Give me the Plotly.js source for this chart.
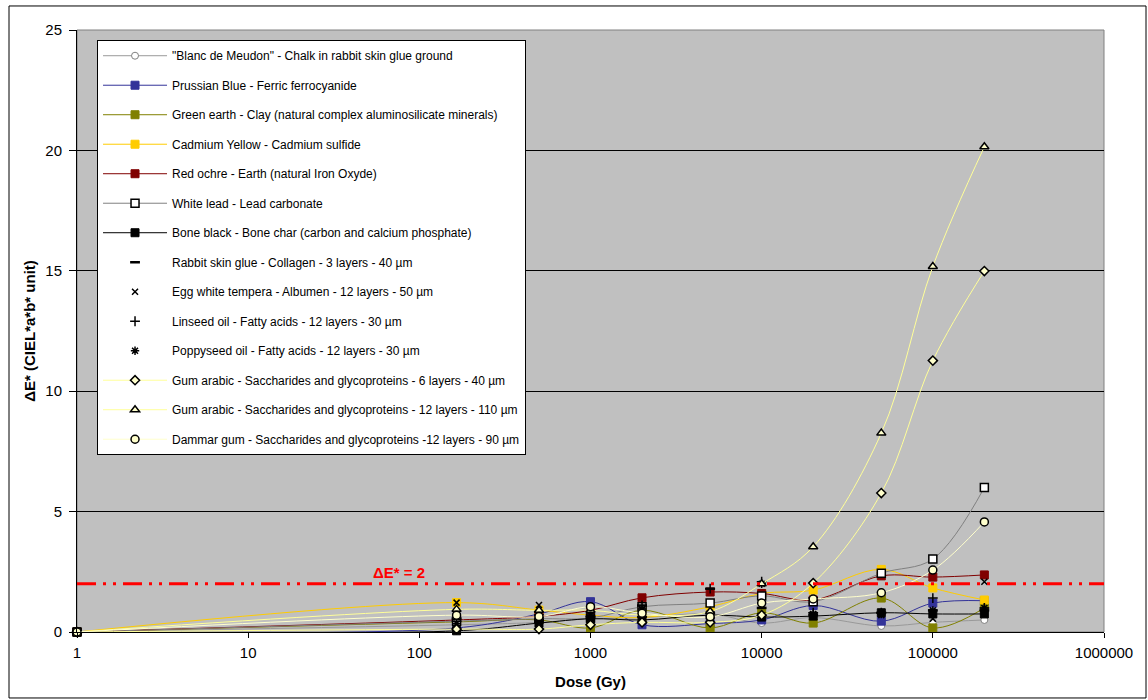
<!DOCTYPE html>
<html>
<head>
<meta charset="utf-8">
<script src="https://cdn.plot.ly/plotly-3.0.1.min.js"></script>
<style>html,body{margin:0;padding:0;background:#fff;}#chart{width:1148px;height:700px;}</style>
</head>
<body>
<div id="chart"></div>
<script>
// Dose values (Gy)
var dose = [1, 165, 500, 1000, 2000, 5000, 10000, 20000, 50000, 100000, 200000];

var seriesNames = [
  '"Blanc de Meudon" - Chalk in rabbit skin glue ground',
  'Prussian Blue - Ferric ferrocyanide',
  'Green earth - Clay (natural complex aluminosilicate minerals)',
  'Cadmium Yellow - Cadmium sulfide',
  'Red ochre - Earth (natural Iron Oxyde)',
  'White lead - Lead carbonate',
  'Bone black - Bone char (carbon and calcium phosphate)',
  'Rabbit skin glue - Collagen - 3 layers - 40 µm',
  'Egg white tempera - Albumen - 12 layers - 50 µm',
  'Linseed oil - Fatty acids - 12 layers - 30 µm',
  'Poppyseed oil - Fatty acids - 12 layers - 30 µm',
  'Gum arabic - Saccharides and glycoproteins - 6 layers - 40 µm',
  'Gum arabic - Saccharides and glycoproteins - 12 layers - 110 µm',
  'Dammar gum - Saccharides and glycoproteins -12 layers - 90 µm'
];

var blancMeudon  = [0, 0.30, 0.40, 0.55, 0.60, 0.75, 0.37, 0.60, 0.25, 0.40, 0.50];
var prussianBlue = [0, 0.17, 0.75, 1.26, 0.30, 0.35, 0.50, 1.10, 0.45, 1.20, 1.30];
var greenEarth   = [0, 0.42, 0.50, 0.17, 0.90, 0.17, 0.80, 0.37, 1.41, 0.17, 1.00];
var cadmiumYellow= [0, 1.22, 0.91, 0.70, 0.60, 1.05, 1.60, 1.74, 2.60, 1.83, 1.33];
var redOchre     = [0, 0.50, 0.65, 0.90, 1.42, 1.66, 1.60, 1.33, 2.33, 2.28, 2.37];
var whiteLead    = [0, 0.45, 0.55, 0.58, 1.05, 1.20, 1.50, 1.26, 2.44, 3.03, 6.00];
var boneBlack    = [0, 0.05, 0.37, 0.55, 0.50, 0.70, 0.62, 0.66, 0.80, 0.75, 0.75];
var rabbitGlue   = [0, 0.55, 0.50, 0.60, 1.10, 1.80, 1.00, 0.70, 0.80, 0.90, 0.90];
var eggWhite     = [0, 1.22, 1.12, 0.70, 0.90, 0.50, 0.60, 0.70, 0.70, 0.55, 2.09];
var linseedOil   = [0, 0.45, 0.40, 0.65, 1.10, 1.80, 2.09, 0.80, 0.80, 1.41, 1.00];
var poppyseedOil = [0, 0.35, 0.50, 0.55, 0.95, 0.60, 2.00, 0.75, 0.75, 0.90, 1.00];
var gumArabic6   = [0, 0.12, 0.12, 0.30, 0.40, 0.40, 0.70, 2.03, 5.77, 11.27, 14.99];
var gumArabic12  = [0, 0.94, 0.90, 0.90, 0.70, 0.85, 2.00, 3.54, 8.26, 15.18, 20.15];
var dammarGum    = [0, 0.70, 0.64, 1.05, 0.78, 0.63, 1.20, 1.37, 1.63, 2.57, 4.57];

var thresholdValue = 2;
var thresholdLabel = 'ΔE* = 2';
var xTickVals = [1, 10, 100, 1000, 10000, 100000, 1000000];
var xTickText = ['1', '10', '100', '1000', '10000', '100000', '1000000'];

var seriesValues = [blancMeudon, prussianBlue, greenEarth, cadmiumYellow, redOchre, whiteLead, boneBlack,
  rabbitGlue, eggWhite, linseedOil, poppyseedOil, gumArabic6, gumArabic12, dammarGum];

var styles = [
  {line: '#999999', sym: 'circle', fill: '#FFFFFF', edge: '#808080', ew: 1, size: 7},
  {line: '#333399', sym: 'square', fill: '#333399', edge: '#333399', ew: 1, size: 8},
  {line: '#808000', sym: 'square', fill: '#808000', edge: '#808000', ew: 1, size: 8},
  {line: '#FFCC00', sym: 'square', fill: '#FFCC00', edge: '#FFCC00', ew: 1, size: 8},
  {line: '#800000', sym: 'square', fill: '#800000', edge: '#800000', ew: 1, size: 8},
  {line: '#808080', sym: 'square', fill: '#FFFFFF', edge: '#000000', ew: 1.5, size: 8},
  {line: '#000000', sym: 'square', fill: '#000000', edge: '#000000', ew: 1, size: 8},
  {line: null, sym: 'line-ew', fill: '#000000', edge: '#000000', ew: 2.5, size: 7},
  {line: null, sym: 'x-thin', fill: '#000000', edge: '#000000', ew: 1.5, size: 6},
  {line: null, sym: 'cross-thin', fill: '#000000', edge: '#000000', ew: 1.5, size: 7},
  {line: null, sym: 'asterisk', fill: '#000000', edge: '#000000', ew: 1.5, size: 7},
  {line: '#FFFF99', sym: 'diamond', fill: '#FFFFCC', edge: '#000000', ew: 1.5, size: 7},
  {line: '#FFFF99', sym: 'triangle-up', fill: '#FFFFCC', edge: '#000000', ew: 1.5, size: 8},
  {line: '#FFFFCC', sym: 'circle', fill: '#FFFFCC', edge: '#000000', ew: 1.5, size: 8}
];

var traces = seriesValues.map(function (vals, i) {
  var s = styles[i];
  return {
    x: dose, y: vals, name: seriesNames[i], type: 'scatter',
    mode: s.line ? 'lines+markers' : 'markers',
    line: {color: s.line || '#000', width: 1, shape: 'spline', smoothing: 1},
    marker: {symbol: s.sym, color: s.fill, size: s.size, line: {color: s.edge, width: s.ew}},
    legendgroup: 'g' + i,
    cliponaxis: false
  };
});

var layout = {
  width: 1148, height: 700,
  margin: {l: 77, r: 44, t: 30, b: 68},
  paper_bgcolor: '#FFFFFF',
  plot_bgcolor: '#C0C0C0',
  font: {family: 'Liberation Sans, Arial, sans-serif', color: '#000', size: 13},
  showlegend: true,
  legend: {
    x: 0.0195, y: 0.983, xanchor: 'left', yanchor: 'top',
    bgcolor: '#FFFFFF', bordercolor: '#000000', borderwidth: 1,
    font: {size: 12, family: 'Liberation Sans, Arial, sans-serif'},
    tracegroupgap: 10.5, itemwidth: 64, traceorder: 'grouped'
  },
  xaxis: {
    type: 'log', range: [0, 6],
    tickvals: xTickVals, ticktext: xTickText,
    ticks: 'outside', ticklen: 5, tickcolor: '#000',
    ticklabelstandoff: 2,
    showline: true, linecolor: '#000', linewidth: 1,
    showgrid: false, zeroline: false,
    tickfont: {size: 15},
    title: {text: '<b>Dose (Gy)</b>', font: {size: 15}, standoff: 16}
  },
  yaxis: {
    range: [0, 25], dtick: 5,
    ticks: 'outside', ticklen: 7, tickcolor: '#000',
    ticklabelstandoff: 4,
    showline: true, linecolor: '#000', linewidth: 1,
    showgrid: true, gridcolor: '#000000', gridwidth: 1, zeroline: false,
    tickfont: {size: 15},
    title: {text: '<b>ΔE* (CIEL*a*b* unit)</b>', font: {size: 15}, standoff: 6}
  },
  shapes: [
    {type: 'rect', xref: 'paper', yref: 'paper', x0: 0, x1: 1, y0: 0, y1: 1,
     line: {color: '#808080', width: 1}, layer: 'below'},
    {type: 'rect', xref: 'paper', yref: 'paper', x0: -0.0662, x1: 1.0409, y0: -0.1096, y1: 1.0399,
     line: {color: '#000000', width: 1}, fillcolor: 'rgba(0,0,0,0)'},
    {type: 'line', xref: 'paper', yref: 'y', x0: 0, x1: 1, y0: thresholdValue, y1: thresholdValue,
     line: {color: '#FF0000', width: 3, dash: '19px,7px,3px,7px,3px,7px'}, layer: 'above'}
  ],
  annotations: [
    {xref: 'x', yref: 'y', x: Math.log10(76), y: thresholdValue, yshift: 11,
     text: '<b>' + thresholdLabel + '</b>', showarrow: false,
     font: {color: '#FF0000', size: 15}}
  ]
};

Plotly.newPlot('chart', traces, layout, {displayModeBar: false, staticPlot: true});
</script>
</body>
</html>
